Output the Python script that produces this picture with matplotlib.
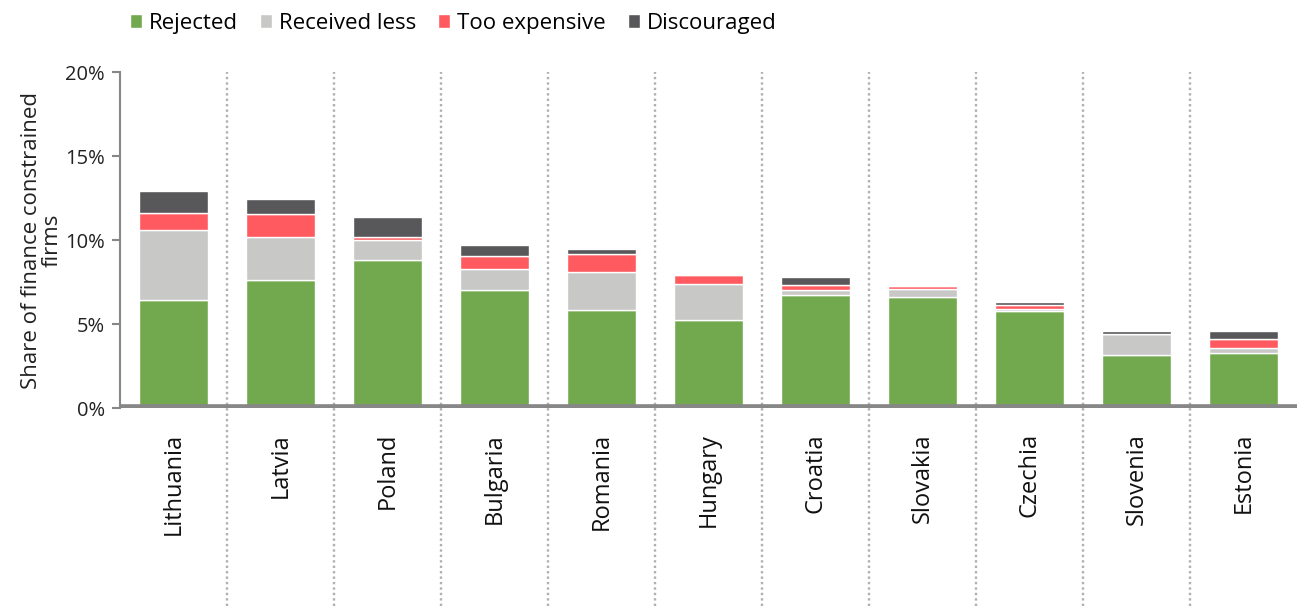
import numpy as np
import matplotlib.pyplot as plt

plt.rcParams['font.family'] = ['Open Sans', 'DejaVu Sans']

countries = ["Lithuania", "Latvia", "Poland", "Bulgaria", "Romania", "Hungary",
             "Croatia", "Slovakia", "Czechia", "Slovenia", "Estonia"]
rejected = [6.45, 7.65, 8.83, 7.02, 5.85, 5.26, 6.73, 6.61, 5.79, 3.13, 3.27]
received_less = [4.15, 2.53, 1.17, 1.27, 2.22, 2.14, 0.27, 0.47, 0.12, 1.27, 0.32]
too_expensive = [1.03, 1.39, 0.21, 0.78, 1.07, 0.49, 0.32, 0.18, 0.24, 0.0, 0.52]
discouraged = [1.29, 0.87, 1.14, 0.61, 0.32, 0.0, 0.45, 0.02, 0.18, 0.20, 0.49]

series = [("Rejected", rejected, "#72A84E"),
          ("Received less", received_less, "#C8C8C6"),
          ("Too expensive", too_expensive, "#FF5A5F"),
          ("Discouraged", discouraged, "#58585A")]

fig = plt.figure(figsize=(13.06, 6.06), dpi=100)
ax = fig.add_axes([0.0919, 0.3267, 0.9011, 0.5544])

x = np.arange(len(countries))
bottom = np.zeros(len(countries))
for name, vals, col in series:
    vals = np.array(vals)
    ax.bar(x, vals, bottom=bottom, width=0.64, color=col, edgecolor="white",
           linewidth=1, label=name, zorder=2)
    bottom += vals

# dotted separators between countries, running down through the label area
for b in np.arange(0.5, len(countries) - 1, 1.0):
    ax.plot([b, b], [-0.59, 1.0], transform=ax.get_xaxis_transform(),
            color="#B0B0B0", linestyle=(0, (1, 1.3)), linewidth=1.7,
            clip_on=False, zorder=1)

ax.axhline(0, color="#878787", linewidth=5.5, zorder=3)

ax.set_xlim(-0.5, len(countries) - 0.5)
ax.set_ylim(0, 20)
ax.set_yticks([0, 5, 10, 15, 20])
ax.set_yticklabels(["0%", "5%", "10%", "15%", "20%"], fontsize=14.5, color="#222222")
ax.set_xticks(x)
ax.set_xticklabels(countries, rotation=90, fontsize=17, color="#111111")
ax.tick_params(axis="x", length=0, pad=18)
ax.tick_params(axis="y", length=6, width=1.5, color="#878787", direction="out", pad=5)

for s in ["top", "right", "bottom"]:
    ax.spines[s].set_visible(False)
ax.spines["left"].set_color("#878787")
ax.spines["left"].set_linewidth(1.5)

ax.set_ylabel("Share of finance constrained\nfirms", fontsize=16, color="#222222",
              labelpad=2, linespacing=0.95)

fig.legend(loc="upper left", bbox_to_anchor=(0.084, 1.012), ncol=4, frameon=False,
           fontsize=16, handlelength=0.55, handleheight=0.55, handletextpad=0.3,
           columnspacing=1.0)

fig.savefig("out.png", dpi=100)
